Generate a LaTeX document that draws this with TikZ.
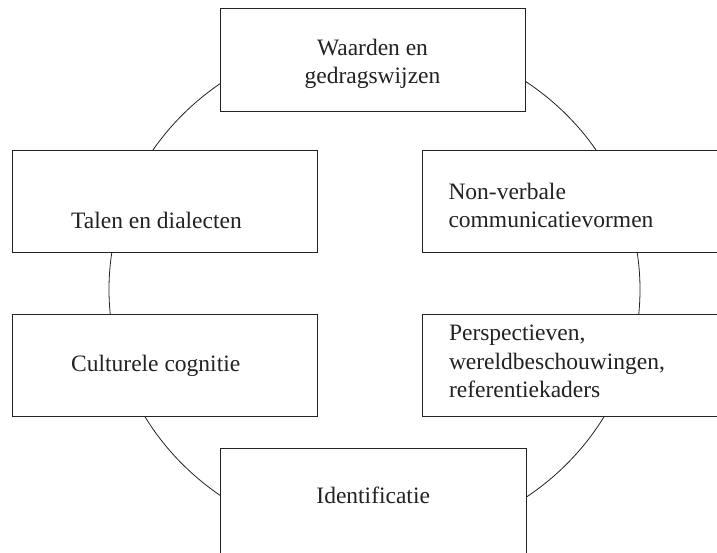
\documentclass[tikz,border=0pt]{standalone}
\usepackage{fontspec}
\setmainfont{Liberation Serif}
\definecolor{ink}{HTML}{222222}
\begin{document}
\begin{tikzpicture}[x=1pt,y=-1pt,
  box/.style={draw=ink, line width=0.9pt, fill=white, rectangle, inner sep=0pt, outer sep=0pt},
  txt/.style={font=\fontsize{23.5}{28}\selectfont, inner sep=0pt, text=ink}]
\useasboundingbox (0,0) rectangle (717,553);
\clip (0,0) rectangle (717,553);
% ring
\draw[draw=ink, line width=0.8pt] (374.5,289.5) ellipse [x radius=265.5, y radius=253];
% boxes
\node[box, minimum width=305pt, minimum height=102.7pt] (top) at (372.7,59.7) {};
\node[box, minimum width=305pt, minimum height=102.3pt] (lt) at (164.8,201.8) {};
\node[box, minimum width=305pt, minimum height=102.3pt] (rt) at (575.2,201.8) {};
\node[box, minimum width=305pt, minimum height=102.4pt] (lb) at (164.8,365.5) {};
\node[box, minimum width=305pt, minimum height=102.4pt] (rb) at (575.2,365.5) {};
\node[box, minimum width=306pt, minimum height=110pt] (bot) at (373.7,503.3) {};
% texts
\node[txt, anchor=base] (t1) at (372.5,55.7) {Waarden en};
\node[txt, anchor=base] (t2) at (372.5,83.3) {gedragswijzen};
\node[txt, anchor=base west] (l1) at (71,228.3) {Talen en dialecten};
\node[txt, anchor=base west] (r1) at (448.3,200) {Non-verbale};
\node[txt, anchor=base west] (r2) at (448.3,228) {communicatievormen};
\node[txt, anchor=base west] (c1) at (71,371.7) {Culturele cognitie};
\node[txt, anchor=base west] (p1) at (448.8,340.5) {Perspectieven,};
\node[txt, anchor=base west] (p2) at (448.8,369) {wereldbeschouwingen,};
\node[txt, anchor=base west] (p3) at (448.8,397.5) {referentiekaders};
\node[txt, anchor=base] (i1) at (373.2,503.3) {Identificatie};
\end{tikzpicture}
\end{document}
